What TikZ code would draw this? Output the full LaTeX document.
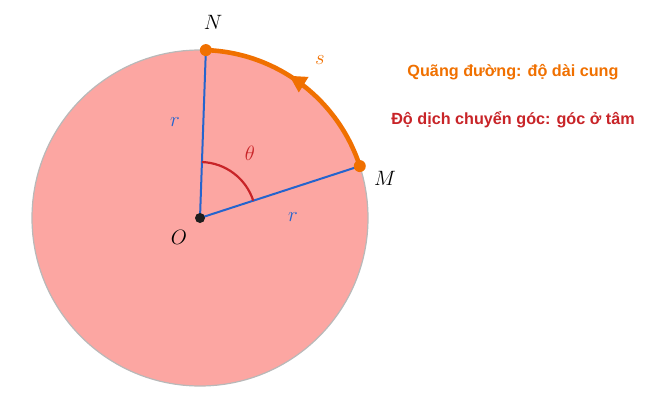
\documentclass[tikz,border=0pt]{standalone}
\usepackage{fontspec}
\newfontfamily\captionfont{Liberation Sans}
\usetikzlibrary{angles,arrows.meta,decorations.markings}
\definecolor{discfill}{RGB}{252,166,162}
\definecolor{rimgray}{RGB}{185,185,185}
\definecolor{spokeblue}{RGB}{36,100,206}
\definecolor{arcorange}{RGB}{240,112,0}
\definecolor{anglered}{RGB}{200,36,40}
\definecolor{dotblack}{RGB}{30,30,30}

\begin{document}
\begin{tikzpicture}[x=1pt,y=1pt,
    point/.style={circle, fill=arcorange, inner sep=0pt, minimum size=12pt},
    spoke/.style={draw=spokeblue, line width=2pt},
    lbl/.style={font=\fontsize{21.5}{24}\selectfont},
    caption/.style={font=\captionfont\bfseries\fontsize{16.2}{19}\selectfont}]
    \useasboundingbox (0,0) rectangle (659,400);

    \filldraw[fill=discfill, draw=rimgray, line width=1.2pt] (200,182) circle (168);

    \coordinate (O) at (200,182);
    \coordinate (M) at ([shift={(18:168)}]O);
    \coordinate (N) at ([shift={(88:168)}]O);

    \path[spoke] (O) -- (N)
                 (O) -- (M);
    \pic[draw=anglered, line width=2.2pt, angle radius=56pt] {angle = M--O--N};

    \draw[arcorange, line width=4.6pt, postaction={decorate},
          decoration={markings, mark=at position 0.57 with {\arrow{Triangle[length=17pt,width=17pt]}}}]
          (M) arc[start angle=18, end angle=88, radius=168];

    \node[point] (m) at (M) {};
    \node[point] (n) at (N) {};
    \node[point, fill=dotblack, minimum size=10pt] (o) at (O) {};

    \node[lbl] at (213,378) {$N$};
    \node[lbl] at (385,222) {$M$};
    \node[lbl] at (179,163) {$O$};
    \node[lbl, text=arcorange] at (320,340) {$s$};
    \node[lbl, text=spokeblue] at (175,278) {$r$};
    \node[lbl, text=spokeblue] at (293,183) {$r$};
    \node[lbl, text=anglered] at (250,247) {$\theta$};

    \node[caption, text=arcorange] (dist) at (513,328) {Quãng đường: độ dài cung};
    \node[caption, text=anglered] (disp) at (513,280) {Độ dịch chuyển góc: góc ở tâm};
\end{tikzpicture}
\end{document}
